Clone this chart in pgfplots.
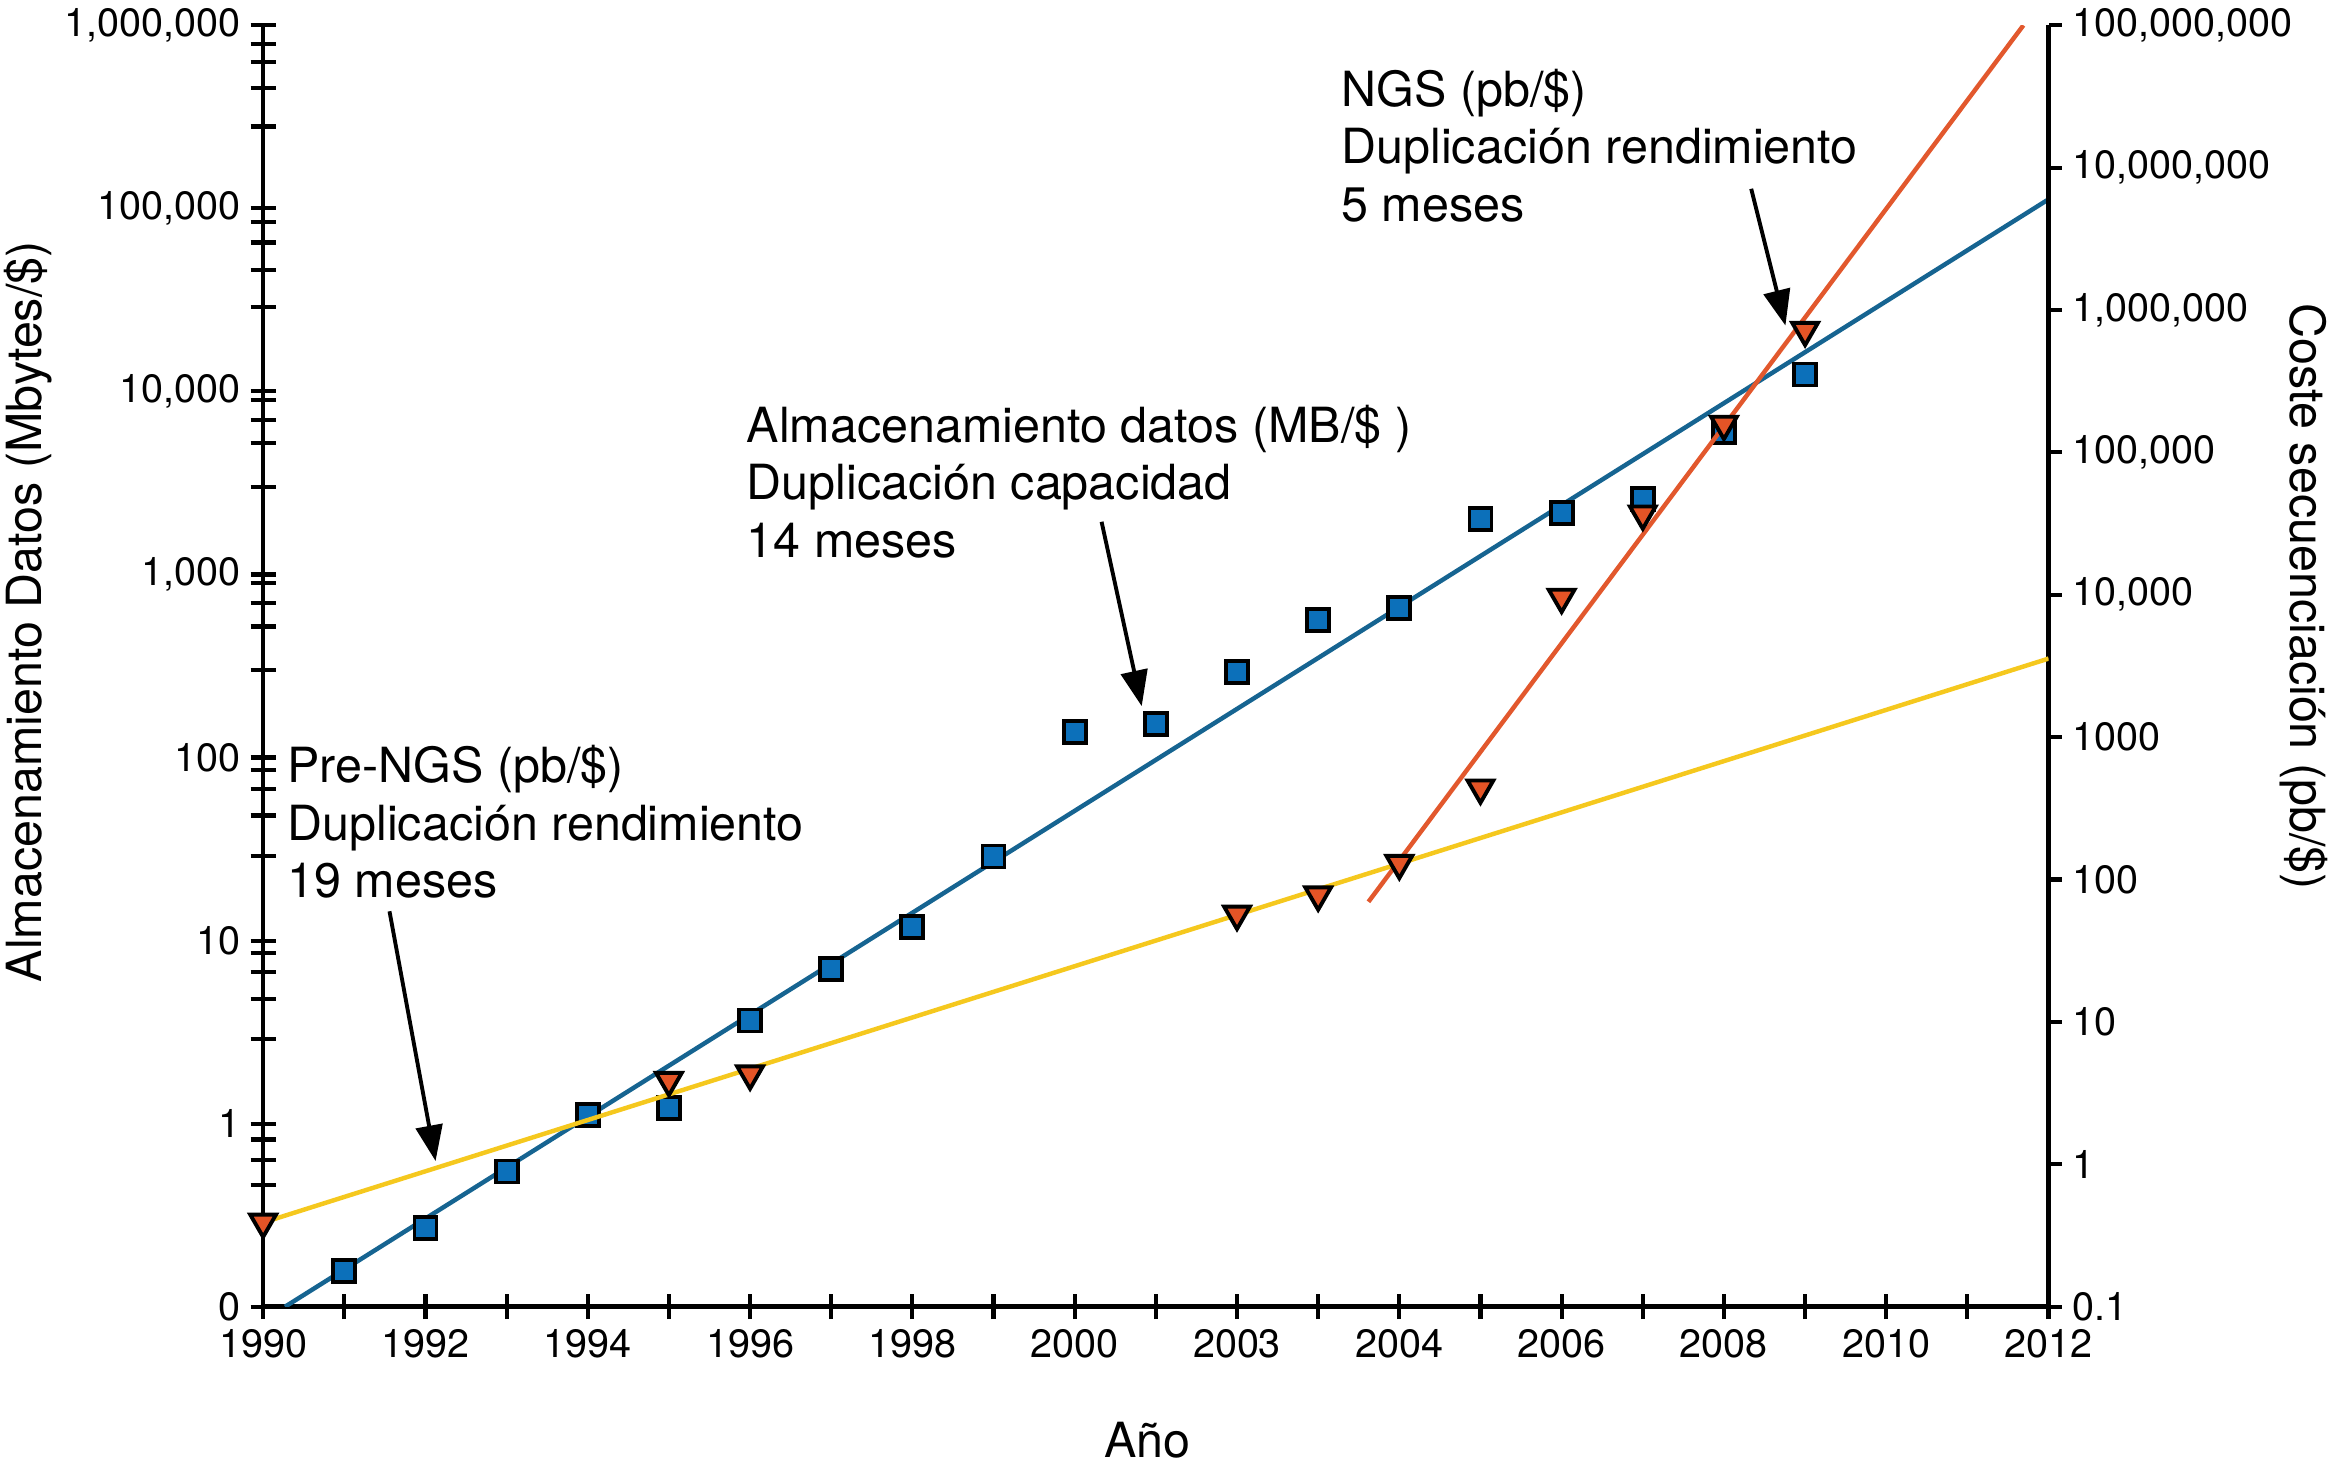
\documentclass[border=0pt]{standalone}
\usepackage{pgfplots}
\pgfplotsset{compat=1.18}
\usepackage{fontspec}
\setmainfont{TeX Gyre Heros}
\usetikzlibrary{arrows.meta}
\definecolor{sqblue}{RGB}{12,112,186}
\definecolor{lineblue}{RGB}{22,100,145}
\definecolor{lineyel}{RGB}{245,200,30}
\definecolor{lineora}{RGB}{226,88,45}
\definecolor{trired}{RGB}{228,84,38}

\pgfplotstableread{
x y
1991 0.157
1992 0.269
1993 0.548
1994 1.116
1995 1.214
1996 3.66
1997 6.97
1998 11.9
1999 28.8
2000 138
2001 152
2002 294
2003 565
2004 656
2005 2014
2006 2158
2007 2590
2008 6000
2009 12360
}\storage

\pgfplotstableread{
x y
1990 0.393
1995 3.89
1996 4.32
2002 57.2
2003 78.1
2004 130
2005 440
2006 9620
2007 37000
2008 157800
2009 721000
}\sequencing

\begin{document}
\begin{tikzpicture}
\path[use as bounding box] (-88.5pt,-55pt) rectangle (695.5pt,439.5pt);
\begin{axis}[
  scale only axis, width=600.5pt, height=431pt,
  xmin=1990, xmax=2012, ymode=log,
  ymin=0.1, ymax=1e6,
  axis x line=bottom, axis y line=left,
  axis line style={-, line width=1.5pt, black},
  every outer x axis line/.append style={-},
  every outer y axis line/.append style={-},
  tick style={black, line width=1.4pt},
  ticklabel style={font=\fontsize{13.3}{16}\selectfont},
  tick align=center,
  major tick length=8.4pt, minor tick length=8.4pt,
  xtick={1990,1991,...,2012},
  xticklabels={1990,,1992,,1994,,1996,,1998,,2000,,2003,,2004,,2006,,2008,,2010,,2012},
  ytick={0.1,1,10,100,1000,10000,100000,1000000},
  yticklabels={0,1,10,100,{1,000},{10,000},{100,000},{1,000,000}},
  minor ytick={0.82,0.63,0.46,
    8.55,6.75,4.82,2.9,
    85.5,67.5,48.2,29,
    900,700,520,300,
    9000,7000,5200,3000,
    84000,65000,46000,29000,
    790000,630000,455000,280000},
]
\addplot[only marks, mark=square*, mark size=3.7pt,
  mark options={fill=sqblue, draw=black, line width=1.3pt}] table[x=x,y=y] {\storage};
\addplot[lineblue, line width=1.5pt] coordinates {(1990.27,0.1) (2012,112000)};
\end{axis}
\begin{axis}[
  scale only axis, width=600.5pt, height=431pt,
  xmin=1990, xmax=2012, ymode=log,
  ymin=0.1, ymax=1e8,
  axis x line=none, axis y line=right,
  axis line style={-, line width=1.5pt, black},
  every outer y axis line/.append style={-},
  tick style={black, line width=1.4pt},
  ticklabel style={font=\fontsize{13.3}{16}\selectfont},
  tick align=outside, major tick length=4.5pt,
  yminorticks=false,
  ytick={0.1,1,10,100,1000,10000,100000,1000000,10000000,100000000},
  yticklabels={0.1,1,10,100,1000,{10,000},{100,000},{1,000,000},{10,000,000},{100,000,000}},
]
\addplot[only marks, mark=triangle*, mark size=5pt,
  mark options={rotate=180, fill=trired, draw=black, line width=1.3pt}] table[x=x,y=y] {\sequencing};
\addplot[lineyel, line width=1.5pt] coordinates {(1990,0.39) (2012,3565)};
\addplot[lineora, line width=1.5pt] coordinates {(2003.62,69.8) (2011.69,1e8)};
\end{axis}

\begin{scope}[every node/.style={font=\fontsize{16.3}{19.3}\selectfont, inner sep=0pt, align=left}]
\node[anchor=west] at (8pt,163pt) {Pre-NGS (pb/\$)\\Duplicación rendimiento\\19 meses};
\node[anchor=west] at (162.5pt,277.5pt) {Almacenamiento datos (MB/\$ )\\Duplicación capacidad\\14 meses};
\node[anchor=west] at (362.5pt,390.5pt) {NGS (pb/\$)\\Duplicación rendimiento\\5 meses};
\node at (297.5pt,-45pt) {Año};
\node[rotate=90] at (-79pt,233.75pt) {Almacenamiento Datos (Mbytes/\$)};
\node[rotate=-90] at (686.5pt,238.75pt) {Coste secuenciación (pb/\$)};
\end{scope}
\begin{scope}[line width=1.3pt, -{Triangle[length=12pt,width=9pt]}]
\draw (42.5pt,133pt) -- (58pt,49pt);
\draw (282pt,264pt) -- (295.5pt,202pt);
\draw (500.5pt,376pt) -- (512pt,330pt);
\end{scope}
\end{tikzpicture}
\end{document}
